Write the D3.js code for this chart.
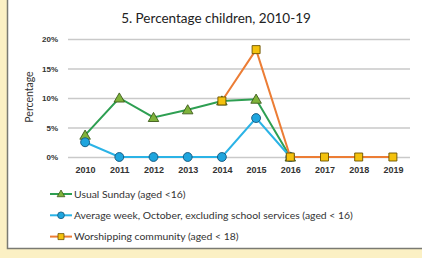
<!DOCTYPE html>
<html>
<head>
<meta charset="utf-8">
<script src="https://cdn.jsdelivr.net/npm/d3@7"></script>
<style>
  body { margin: 0; background: #fbf0c4; }
  svg { display: block; font-family: Lato, "Open Sans", sans-serif; }
</style>
</head>
<body>
<svg id="chart"></svg>
<script>
const years = ["2010", "2011", "2012", "2013", "2014", "2015", "2016", "2017", "2018", "2019"];
const yTicks = [0, 5, 10, 15, 20];
const usualSunday = [3.7, 10, 6.7, 8, 9.5, 9.8, 0, null, null, null];
const averageWeek = [2.5, 0, 0, 0, 0, 6.6, 0, null, null, null];
const worshipping = [null, null, null, null, 9.5, 18.2, 0, 0, 0, 0];

const seriesNames = [
  "Usual Sunday (aged <16)",
  "Average week, October, excluding school services (aged < 16)",
  "Worshipping community (aged < 18)"
];

const width = 422, height = 258;
const margin = { top: 39, right: 12, bottom: 101, left: 68 };
const innerW = width - margin.left - margin.right;
const innerH = height - margin.top - margin.bottom;

const svg = d3.select("#chart").attr("width", width).attr("height", height);

// white panel with border
svg.append("rect").attr("width", width).attr("height", height).attr("fill", "#fbf0c4");
svg.append("rect")
  .attr("x", 7.5).attr("y", -2).attr("width", width).attr("height", 250.5)
  .attr("fill", "#fff").attr("stroke", "#7a7a72").attr("stroke-width", 1.5);

const chart = svg.append("g").attr("transform", `translate(${margin.left},${margin.top})`);

const x = d3.scalePoint().domain(years).range([0, innerW]).padding(0.5);
const y = d3.scaleLinear().domain([0, 20]).range([innerH, 0]);

// gridlines
chart.append("g")
  .call(d3.axisLeft(y).tickValues(yTicks).tickSize(-innerW).tickFormat(d => d + "%").tickPadding(10))
  .call(g => g.select(".domain").remove())
  .call(g => g.selectAll(".tick line").attr("stroke", "#c9c9c9").attr("stroke-width", 1.5))
  .call(g => g.selectAll(".tick text").attr("fill", "#333").style("font-size", "8px").style("font-weight", "bold"));

chart.append("g")
  .attr("transform", `translate(0,${innerH})`)
  .call(d3.axisBottom(x).tickSize(0).tickPadding(10))
  .call(g => g.select(".domain").remove())
  .call(g => g.selectAll(".tick text").attr("fill", "#333").style("font-size", "9px").style("font-weight", "bold"));

// title
svg.append("text")
  .attr("x", 216).attr("y", 23)
  .attr("text-anchor", "middle")
  .attr("fill", "#222")
  .style("font-size", "13.5px")
  .text("5. Percentage children, 2010-19");

svg.append("text")
  .attr("transform", "translate(33,97) rotate(-90)")
  .attr("text-anchor", "middle")
  .attr("fill", "#333")
  .style("font-size", "10.5px")
  .text("Percentage");

const series = [
  { name: seriesNames[0], values: usualSunday, line: "#2e9f52", fill: "#7fb33a", stroke: "#3c5a1a", shape: "triangle" },
  { name: seriesNames[1], values: averageWeek, line: "#2bb3e6", fill: "#1ea5de", stroke: "#15557a", shape: "circle" },
  { name: seriesNames[2], values: worshipping, line: "#ec7d35", fill: "#f4c20d", stroke: "#6b5200", shape: "square" }
];

const symbolFor = {
  triangle: d3.symbol().type(d3.symbolTriangle).size(48),
  circle: d3.symbol().type(d3.symbolCircle).size(62),
  square: d3.symbol().type(d3.symbolSquare).size(64)
};

const line = d3.line()
  .defined(d => d.v != null)
  .x(d => x(d.year))
  .y(d => y(d.v));

series.forEach(s => {
  const pts = years.map((yr, i) => ({ year: yr, v: s.values[i] }));
  chart.append("path")
    .datum(pts)
    .attr("fill", "none")
    .attr("stroke", s.line)
    .attr("stroke-width", 2)
    .attr("d", line);
  chart.selectAll(null)
    .data(pts.filter(d => d.v != null))
    .join("path")
    .attr("transform", d => `translate(${x(d.year)},${y(d.v) + (s.shape === "triangle" ? 1 : 0)})`)
    .attr("d", symbolFor[s.shape])
    .attr("fill", s.fill)
    .attr("stroke", s.stroke)
    .attr("stroke-width", 0.9);
});

// legend
const legend = svg.append("g").attr("transform", "translate(50,194)");
series.forEach((s, i) => {
  const g = legend.append("g").attr("transform", `translate(0,${i * 21.3})`);
  g.append("line").attr("x1", 0).attr("x2", 22).attr("stroke", s.line).attr("stroke-width", 2);
  g.append("path")
    .attr("transform", `translate(11,${s.shape === "triangle" ? 0.5 : 0})`)
    .attr("d", d3.symbol().type(
      s.shape === "triangle" ? d3.symbolTriangle : s.shape === "circle" ? d3.symbolCircle : d3.symbolSquare
    ).size(s.shape === "triangle" ? 26 : 36))
    .attr("fill", s.fill).attr("stroke", s.stroke).attr("stroke-width", 0.8);
  g.append("text")
    .attr("x", 24).attr("dy", "0.35em")
    .attr("fill", "#333")
    .style("font-size", "10.4px")
    .text(s.name);
});
</script>
</body>
</html>
